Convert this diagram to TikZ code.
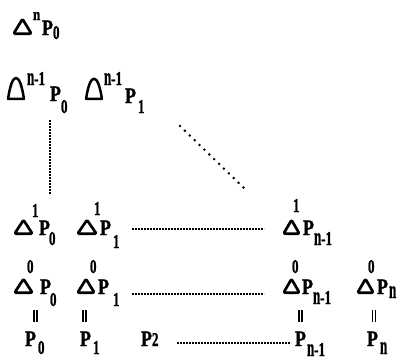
\documentclass[tikz,border=0pt]{standalone}
\usepackage{fontspec}
\setmainfont{Liberation Serif}[BoldFeatures={FakeBold=1.5}]
\usepackage{graphicx}
\newcommand\bigP{\scalebox{0.9}[1.1]{\fontsize{20}{20}\selectfont\bfseries P}}
\newcommand\tl[1]{\scalebox{1}[1.5]{\fontsize{13}{13}\selectfont\bfseries #1}}
\newcommand\nn{\scalebox{1}[1.9]{\fontsize{13}{13}\selectfont\bfseries n}}
\newcommand\nmo{\nn\tl{-1}}
\tikzset{
  t/.style={anchor=base west,inner sep=0pt,outer sep=0pt},
  tri/.style={draw,line width=2.7pt,rounded corners=1.2pt,line join=round},
  dome/.style={draw,line width=2.5pt,line join=round},
  hdots/.style={line width=2.1pt,dash pattern=on 1.8pt off 1.2pt},
  vdots/.style={line width=2.1pt,dash pattern=on 1.6pt off 1.4pt},
  ddots/.style={line width=2.8pt,line cap=round,dash pattern=on 0pt off 6.8pt},
  eq/.style={line width=1.6pt}
}
\newcommand\Tri[5]{% name, left, top, right, bottom
  \draw[tri] (#2+0.6,#5-1.3) -- ({(#2+#4)/2},#3-1) -- (#4-0.6,#5-1.3) -- cycle;
  \coordinate (#1) at ({(#2+#4)/2},#5);}
\newcommand\Dome[5]{%
  \draw[dome] (#2+1.1,#5-1.2) .. controls (#2+5,#3-6) and (#4-5,#3-6) .. (#4-1.1,#5-1.2) -- cycle;
  \coordinate (#1) at ({(#2+#4)/2},#5);}
\newcommand\Eq[2]{% name, x
  \draw[eq] (#2-1.6,310) coordinate (#1) -- (#2-1.6,322);
  \draw[eq] (#2+1.6,310) -- (#2+1.6,322);}
\begin{document}
\begin{tikzpicture}[x=1pt,y=-1pt]
\useasboundingbox (0,0) rectangle (412,360);
% row 1
\Tri{d1}{13}{20}{32}{35}
\node[t] (s1) at (33,20) {\scalebox{1}[1.3]{\fontsize{13}{13}\selectfont\bfseries n}};
\node[t] (p1) at (42,35) {\bigP};
\node[t] (b1) at (53,39) {\tl{0}};
% row 2
\Dome{d2a}{7}{77}{25}{100}
\node[t] (s2a) at (27,85) {\nmo};
\node[t] (p2a) at (50,101) {\bigP};
\node[t] (b2a) at (61,113) {\tl{0}};
\Dome{d2b}{85}{78}{103}{100}
\node[t] (s2b) at (104,85) {\nmo};
\node[t] (p2b) at (125,103) {\bigP};
\node[t] (b2b) at (138,113) {\tl{1}};
% dotted connectors upper
\coordinate (v1) at (50,120);
\coordinate (v2) at (50,195);
\draw[vdots] (v1) -- (v2);
\coordinate (g1) at (180,126);
\coordinate (g2) at (245,189);
\draw[ddots] (g1) -- (g2);
% row 3
\Tri{d3a}{14}{221}{33}{235}
\node[t] (s3a) at (32,217) {\tl{1}};
\node[t] (p3a) at (39,235) {\bigP};
\node[t] (b3a) at (49,245) {\tl{0}};
\Tri{d3b}{77}{221}{97}{235}
\node[t] (s3b) at (94,215) {\tl{1}};
\node[t] (p3b) at (100,235) {\bigP};
\node[t] (b3b) at (113,248) {\tl{1}};
\Tri{d3c}{283}{221}{300}{235}
\node[t] (s3c) at (293,212) {\tl{1}};
\node[t] (p3c) at (303,235) {\bigP};
\node[t] (b3c) at (314,245) {\nmo};
\coordinate (h3a) at (132,229);
\coordinate (h3b) at (264,229);
\draw[hdots] (h3a) -- (h3b);
% row 4
\Tri{d4a}{14}{280}{33}{294}
\node[t] (s4a) at (27,273) {\tl{0}};
\node[t] (p4a) at (40,294) {\bigP};
\node[t] (b4a) at (50,306) {\tl{0}};
\Tri{d4b}{77}{280}{95}{294}
\node[t] (s4b) at (90,273) {\tl{0}};
\node[t] (p4b) at (98,294) {\bigP};
\node[t] (b4b) at (113,306) {\tl{1}};
\Tri{d4c}{283}{280}{300}{294}
\node[t] (s4c) at (292,273) {\tl{0}};
\node[t] (p4c) at (302,294) {\bigP};
\node[t] (b4c) at (313,304) {\nmo};
\Tri{d4d}{357}{280}{374}{294}
\node[t] (s4d) at (368,273) {\tl{0}};
\node[t] (p4d) at (377,294) {\bigP};
\node[t] (b4d) at (389,298) {\nn};
\coordinate (h4a) at (132,294);
\coordinate (h4b) at (264,294);
\draw[hdots] (h4a) -- (h4b);
% equal signs
\Eq{e1}{35.5}
\Eq{e2}{84.5}
\Eq{e3}{300.5}
\Eq{e4}{374}
% row 5
\node[t] (p5a) at (25,346) {\bigP};
\node[t] (b5a) at (38,354) {\tl{0}};
\node[t] (p5b) at (80,346) {\bigP};
\node[t] (b5b) at (93,354) {\tl{1}};
\node[t] (p5c) at (141,346) {\bigP\tl{2}};
\node[t] (p5d) at (295,346) {\bigP};
\node[t] (b5d) at (307,356) {\nmo};
\node[t] (p5e) at (367,346) {\bigP};
\node[t] (b5e) at (380,354) {\nn};
\coordinate (h5a) at (177,343);
\coordinate (h5b) at (291,343);
\draw[hdots] (h5a) -- (h5b);
\end{tikzpicture}
\end{document}
